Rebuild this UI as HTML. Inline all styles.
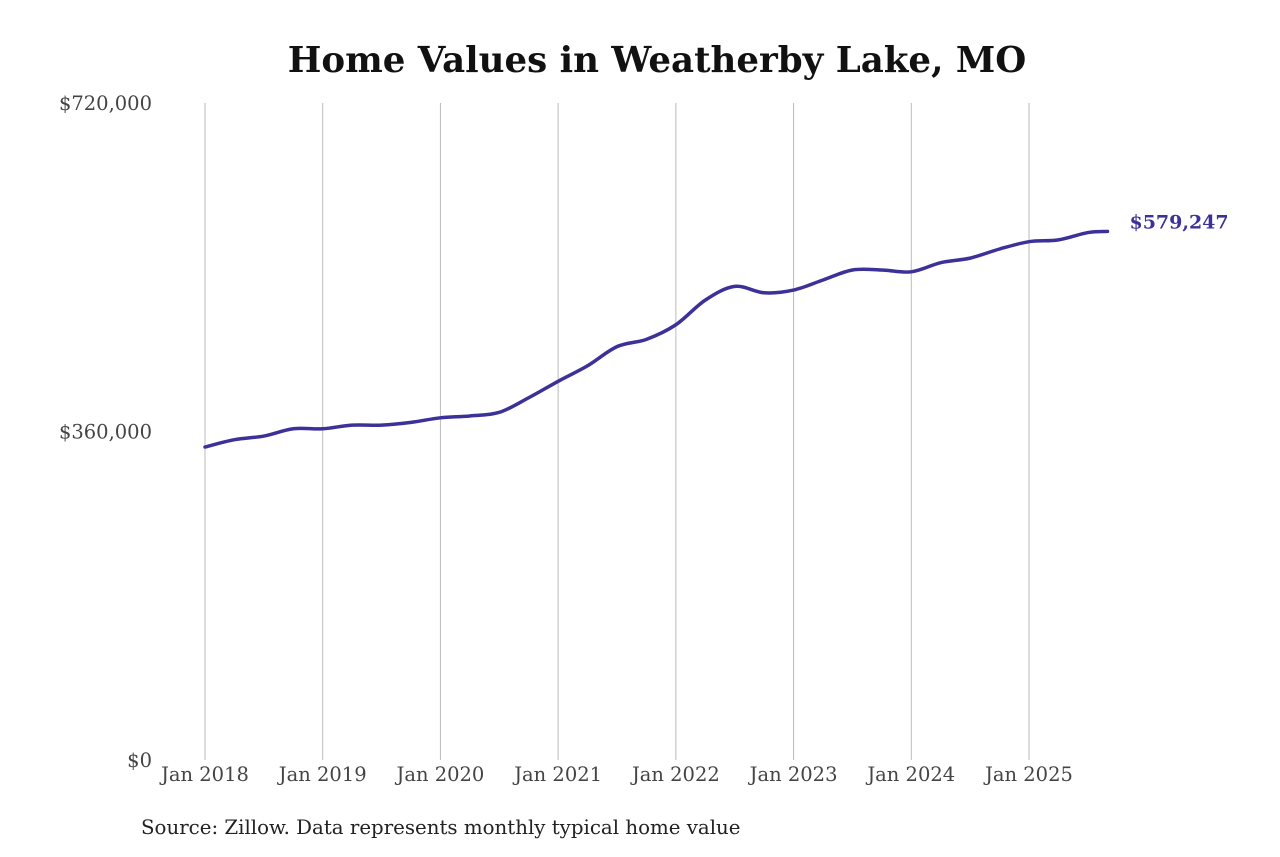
<!DOCTYPE html>
<html><head><meta charset="utf-8">
<style>
body{margin:0;background:#fff;width:1280px;height:853px;overflow:hidden;font-family:"DejaVu Serif","Liberation Serif",serif;}
</style></head>
<body>
<svg id="chart" width="1280" height="853" xmlns="http://www.w3.org/2000/svg">
<text x="657" y="72" text-anchor="middle" font-family="DejaVu Serif, serif" font-weight="bold" font-size="35.6" fill="#111">Home Values in Weatherby Lake, MO</text>
<g id="grid"></g><g id="yaxis"></g><g id="xaxis"></g><g id="series"></g>
<text x="141" y="834" font-family="DejaVu Serif, serif" font-size="19.8" fill="#222">Source: Zillow. Data represents monthly typical home value</text>
</svg>
<script>
const months = [0,3,6,9,12,15,18,21,24,27,30,33,36,39,42,45,48,51,54,57,60,63,66,69,72,75,78,81,84,87,90,92];
const values = [343000,351000,355000,363000,363000,367000,367000,370000,375000,377000,381000,397000,415000,432000,453000,461000,477000,504000,519000,512000,515000,526000,537000,537000,535000,545000,550000,560000,568000,570000,578000,579247];
const yTicks = [0,360000,720000];
const yTickLabels = ["$0","$360,000","$720,000"];
const xTickMonths = [0,12,24,36,48,60,72,84];
const xTickLabels = ["Jan 2018","Jan 2019","Jan 2020","Jan 2021","Jan 2022","Jan 2023","Jan 2024","Jan 2025"];
const lastLabel = "$579,247";

const NS="http://www.w3.org/2000/svg";
const x = m => 205 + m*(1029-205)/84;
const y = v => 760 - v*(760-103)/720000;
function mk(tag,attrs,parent){const e=document.createElementNS(NS,tag);for(const k in attrs)e.setAttribute(k,attrs[k]);document.getElementById(parent).appendChild(e);return e;}

xTickMonths.forEach((m,i)=>{
  const l=mk('line',{x1:x(m),x2:x(m),y1:103,y2:760,stroke:'#bbb','stroke-width':1},'grid');
  
  
  const t=mk('text',{x:x(m),y:781,'text-anchor':'middle','font-size':19.5,fill:'#444'},'xaxis');
  t.textContent=xTickLabels[i];
  
  
});
yTicks.forEach((v,i)=>{
  const t=mk('text',{x:152,y:y(v)+7,'text-anchor':'end','font-size':19.5,fill:'#444'},'yaxis');
  t.textContent=yTickLabels[i];
  
  
});
const pts=months.map((m,i)=>[x(m),y(values[i])]);
let d=`M${pts[0][0]},${pts[0][1]}`;
for(let i=0;i<pts.length-1;i++){
  const p0=pts[Math.max(0,i-1)],p1=pts[i],p2=pts[i+1],p3=pts[Math.min(pts.length-1,i+2)];
  const c1=[p1[0]+(p2[0]-p0[0])/6,p1[1]+(p2[1]-p0[1])/6];
  const c2=[p2[0]-(p3[0]-p1[0])/6,p2[1]-(p3[1]-p1[1])/6];
  d+=` C${c1[0]},${c1[1]} ${c2[0]},${c2[1]} ${p2[0]},${p2[1]}`;
}
const path=mk('path',{d:d,fill:'none',stroke:'#3b3199','stroke-width':3.5,'stroke-linecap':'round'},'series');


const lp=pts[pts.length-1];
const lt=mk('text',{x:lp[0]+22,y:lp[1]-3,'font-size':19,'font-weight':'bold',fill:'#3b3199'},'series');
lt.textContent=lastLabel;


</script>
</body></html>
